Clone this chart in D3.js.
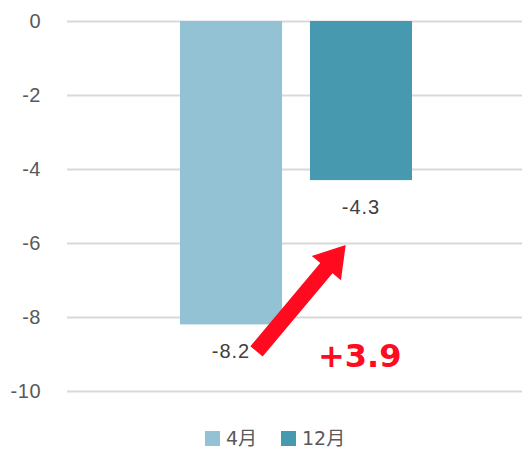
<!DOCTYPE html>
<html>
<head>
<meta charset="utf-8">
<script src="https://cdn.jsdelivr.net/npm/d3@7"></script>
<style>
  body { margin: 0; background: #fff; }
  svg text { font-family: "Liberation Sans", Arial, sans-serif; }
</style>
</head>
<body>
<svg id="chart" width="522" height="450"></svg>
<script>
// data
let months = ["4月", "12月"];
let values = [-8.2, -4.3];
let colors = ["#94c2d5", "#4699ae"];
let yTicks = [0, -2, -4, -6, -8, -10];
let changeLabel = "+3.9";

let svg = d3.select("#chart");

let y = d3.scaleLinear().domain([0, -10]).range([21, 391]);
let x = d3.scaleBand().domain(months).range([180, 412]).paddingInner(0.215).paddingOuter(0);

// gridlines
svg.append("g").selectAll("line")
    .data(yTicks)
    .enter().append("line")
    .attr("x1", 67).attr("x2", 522)
    .attr("y1", d => y(d) + 0.5).attr("y2", d => y(d) + 0.5)
    .attr("stroke", "#d9d9d9")
    .attr("stroke-width", 2);

// y axis labels
svg.append("g").selectAll("text")
    .data(yTicks)
    .enter().append("text")
    .attr("x", 41)
    .attr("y", d => y(d))
    .attr("dy", "0.36em")
    .attr("text-anchor", "end")
    .attr("fill", "#595959")
    .style("font-size", "20px")
    .style("letter-spacing", "0.5px")
    .text(d => d);

// bars
svg.append("g").selectAll("rect")
    .data(values)
    .enter().append("rect")
    .attr("x", (d, i) => x(months[i]))
    .attr("y", y(0))
    .attr("width", x.bandwidth())
    .attr("height", d => y(d) - y(0))
    .attr("fill", (d, i) => colors[i]);

// value labels below bars
svg.append("g").selectAll("text")
    .data(values)
    .enter().append("text")
    .attr("x", (d, i) => x(months[i]) + x.bandwidth() / 2)
    .attr("y", d => y(d) + 34)
    .attr("text-anchor", "middle")
    .attr("fill", "#404040")
    .style("font-size", "20px")
    .style("letter-spacing", "1px")
    .text(d => d.toFixed(1));

// red arrow from 4月 label to 12月 value
let x0 = x(months[0]) + x.bandwidth() * 0.75, y0 = y(values[0]) + 27;
let x1 = x(months[1]) + x.bandwidth() * 0.35, y1 = y(values[1]) + 65;
let ang = Math.atan2(y1 - y0, x1 - x0);
let len = Math.hypot(x1 - x0, y1 - y0);
let shaft = 8, headW = 19, headL = 30;
let pts = [
    [0, -shaft], [len - headL, -shaft], [len - headL, -headW], [len, 0],
    [len - headL, headW], [len - headL, shaft], [0, shaft]
];
svg.append("polygon")
    .attr("points", pts.map(p => p.join(",")).join(" "))
    .attr("transform", "translate(" + x0 + "," + y0 + ") rotate(" + (ang * 180 / Math.PI) + ")")
    .attr("fill", "#ff0a1e");

svg.append("text")
    .attr("x", 318)
    .attr("y", 367)
    .attr("fill", "#ff0a1e")
    .style("font-family", "'DejaVu Sans', Verdana, sans-serif")
    .style("font-weight", "bold")
    .style("font-size", "32px")
    .text(changeLabel);

// legend
let legendX = [205, 281];
let legend = svg.append("g").selectAll("g")
    .data(months)
    .enter().append("g")
    .attr("transform", (d, i) => "translate(" + legendX[i] + ",431)");
legend.append("rect")
    .attr("width", 15).attr("height", 15)
    .attr("fill", (d, i) => colors[i]);
legend.append("text")
    .attr("x", 21)
    .attr("y", 7.5)
    .attr("dy", "0.36em")
    .attr("fill", "#595959")
    .style("font-family", "'DejaVu Sans', 'Noto Sans CJK JP', sans-serif")
    .style("font-size", "19px")
    .text(d => d);
</script>
</body>
</html>
